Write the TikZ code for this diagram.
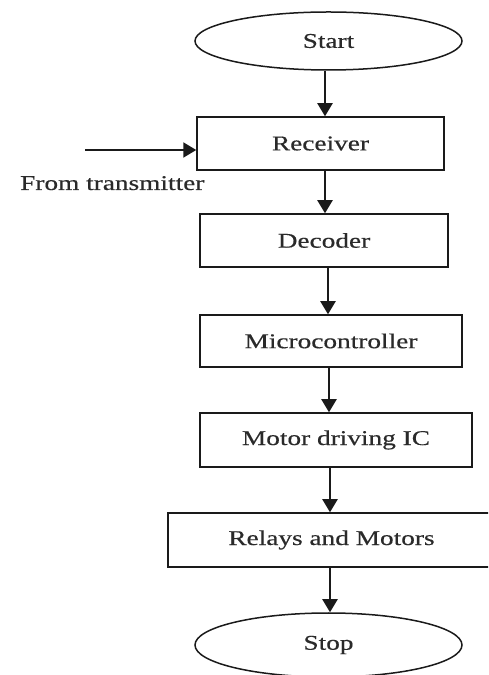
\documentclass[tikz,border=0pt]{standalone}
\usepackage{fontspec}
\setmainfont[FakeStretch=1.3,FakeBold=0.4]{Liberation Serif}
\usetikzlibrary{shapes.geometric,arrows.meta}
\definecolor{linegray}{HTML}{1A1A1A}
\definecolor{textgray}{HTML}{2A2A2A}
\begin{document}
\begin{tikzpicture}[x=1pt,y=1pt,
  box/.style={draw=linegray, line width=1.5pt, rectangle, inner sep=0pt,
    font=\fontsize{21}{24}\selectfont, text=textgray},
  term/.style={draw=linegray, line width=1.5pt, ellipse, inner sep=0pt,
    font=\fontsize{21}{24}\selectfont, text=textgray},
  arr/.style={draw=linegray, line width=2pt, -{Triangle[length=13pt,width=15pt]}},
  lbl/.style={font=\fontsize{21}{24}\selectfont, text=textgray, inner sep=0pt}]
\useasboundingbox (0,0) rectangle (488,675);
\clip (0,0) rectangle (488,675);
\fill[white] (0,0) rectangle (488,675);

\node[term, minimum width=267pt, minimum height=58pt] (start) at (328.5,634) {Start};
\node[box, minimum width=247pt, minimum height=53pt] (receiver) at (320.5,531.5) {Receiver};
\node[box, minimum width=248pt, minimum height=53pt] (decoder) at (324,434.5) {Decoder};
\node[box, minimum width=262pt, minimum height=52pt] (micro) at (331,334) {Microcontroller};
\node[box, minimum width=272pt, minimum height=54pt] (motor) at (336,235) {Motor driving IC};
\node[box, minimum width=327pt, minimum height=54pt] (relays) at (331.5,135) {Relays and Motors};
\node[term, minimum width=267pt, minimum height=64pt] (stop) at (328.5,30) {Stop};

\coordinate (tx) at (85,525);
\node[lbl, anchor=base west] (from) at (20,485) {From transmitter};

\draw[arr] ([xshift=-3.5pt]start.south) -- ([xshift=4.5pt]receiver.north);
\draw[arr] ([xshift=4.5pt]receiver.south) -- ([xshift=1pt]decoder.north);
\draw[arr] ([xshift=4pt]decoder.south) -- ([xshift=-3pt]micro.north);
\draw[arr] ([xshift=-2pt]micro.south) -- ([xshift=-7pt]motor.north);
\draw[arr] ([xshift=-6pt]motor.south) -- ([xshift=-1.5pt]relays.north);
\draw[arr] ([xshift=-1.5pt]relays.south) -- ([xshift=1.5pt]stop.north);
\draw[arr] (tx) -- (tx -| receiver.west);
\end{tikzpicture}
\end{document}
